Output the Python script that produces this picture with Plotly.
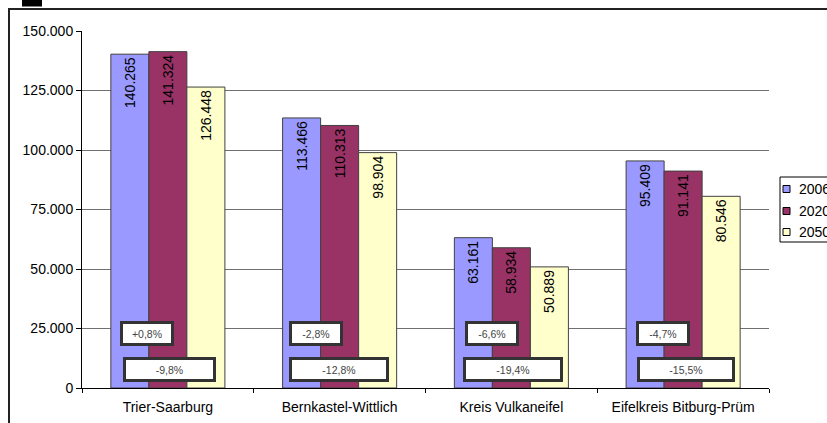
import plotly.graph_objects as go

categories = ["Trier-Saarburg", "Bernkastel-Wittlich", "Kreis Vulkaneifel", "Eifelkreis Bitburg-Prüm"]
years = ["2006", "2020", "2050"]
values_2006 = [140265, 113466, 63161, 95409]
values_2020 = [141324, 110313, 58934, 91141]
values_2050 = [126448, 98904, 50889, 80546]
change_2020 = ["+0,8%", "-2,8%", "-6,6%", "-4,7%"]
change_2050 = ["-9,8%", "-12,8%", "-19,4%", "-15,5%"]
y_ticks = [0, 25000, 50000, 75000, 100000, 125000, 150000]

colors = ["#9999FF", "#993366", "#FFFFCC"]
series = [values_2006, values_2020, values_2050]

W, H = 827, 423
L, R, T, B = 82, 769, 31, 388
PW, PH = R - L, B - T

def px(x):
    return (x - L) / PW

def py(y):
    return (B - y) / PH

def de(v):
    return f"{v:,}".replace(",", ".")

FONT = "Liberation Sans, Arial, sans-serif"

fig = go.Figure()
for name, vals, col in zip(years, series, colors):
    fig.add_trace(go.Bar(
        x=categories, y=vals, name=name,
        marker=dict(color=col, line=dict(color="#404040", width=1)),
        text=[de(v) for v in vals],
        textposition="inside", insidetextanchor="end", textangle=-90,
        textfont=dict(family=FONT, size=14, color="black"),
        constraintext="none",
        showlegend=False,
        hoverinfo="skip",
    ))

shapes = []
annotations = []

# outer frame
shapes.append(dict(type="rect", xref="paper", yref="paper",
                   x0=px(9), y0=py(9), x1=px(840), y1=py(440),
                   line=dict(color="#222", width=2), fillcolor="rgba(0,0,0,0)", layer="above"))
# black marker top-left
shapes.append(dict(type="rect", xref="paper", yref="paper",
                   x0=px(22), y0=py(-2), x1=px(42), y1=py(6.5),
                   line=dict(width=0), fillcolor="black"))

# legend (manual)
shapes.append(dict(type="rect", xref="paper", yref="paper",
                   x0=px(780), y0=py(177), x1=px(850), y1=py(242),
                   line=dict(color="black", width=1), fillcolor="white"))
leg_y = [189, 211, 232]
for name, col, yy in zip(years, colors, leg_y):
    shapes.append(dict(type="rect", xref="paper", yref="paper",
                       x0=px(783), y0=py(yy - 3.5), x1=px(790), y1=py(yy + 3.5),
                       line=dict(color="black", width=1), fillcolor=col))
    annotations.append(dict(xref="paper", yref="paper", x=px(797), y=py(yy),
                            xanchor="left", yanchor="middle", showarrow=False,
                            text=name, font=dict(family=FONT, size=14, color="black")))

# change boxes
small_shift = [-20.4, -23.6, -19.4, -20.1]
large_shift = [1.3, -0.6, 1.6, 3.0]
large_w = [87, 94, 94, 92]
for i, cat in enumerate(categories):
    annotations.append(dict(xref="x", yref="paper", x=cat, y=py(333.5), xshift=small_shift[i],
                            xanchor="center", yanchor="middle", showarrow=False,
                            text=change_2020[i], width=48, height=19,
                            bgcolor="white", bordercolor="#333", borderwidth=3, borderpad=0,
                            font=dict(family=FONT, size=10.5, color="#444")))
    annotations.append(dict(xref="x", yref="paper", x=cat, y=py(369.5), xshift=large_shift[i],
                            xanchor="center", yanchor="middle", showarrow=False,
                            text=change_2050[i], width=large_w[i], height=19,
                            bgcolor="white", bordercolor="#333", borderwidth=3, borderpad=0,
                            font=dict(family=FONT, size=10.5, color="#444")))

fig.update_layout(
    width=W, height=H,
    margin=dict(l=L, r=W - R, t=T, b=H - B, pad=0, autoexpand=False),
    paper_bgcolor="white", plot_bgcolor="white",
    barmode="group", bargap=0.336, bargroupgap=0,
    showlegend=False,
    font=dict(family=FONT, size=14, color="black"),
    shapes=shapes, annotations=annotations,
    uniformtext=dict(mode=False),
)
fig.update_xaxes(showline=True, linecolor="black", linewidth=1, automargin=False,
                 ticks="outside", ticklen=4, tickcolor="black", tickson="boundaries",
                 ticklabelstandoff=6,
                 showgrid=False, tickfont=dict(family=FONT, size=14, color="black"))
fig.update_yaxes(range=[0, 150000], tickvals=y_ticks, ticktext=[de(v) for v in y_ticks],
                 showline=True, linecolor="black", linewidth=1, automargin=False,
                 ticks="outside", ticklen=5, tickcolor="black",
                 showgrid=True, gridcolor="#707070", gridwidth=1, zeroline=False,
                 tickfont=dict(family=FONT, size=14, color="black"))

fig.write_html("out.html", config={"displayModeBar": False},
               post_script="document.body.style.margin='0';document.body.style.overflow='hidden';")
